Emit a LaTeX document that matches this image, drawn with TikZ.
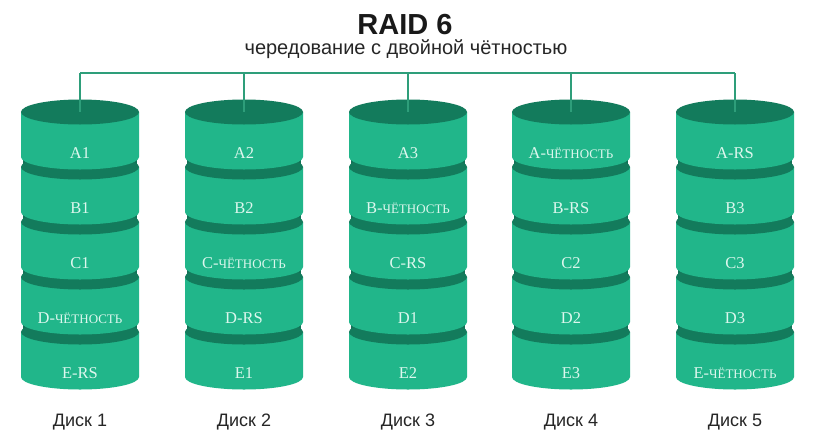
\documentclass[tikz,border=0pt]{standalone}
\usepackage{fontspec}
\setmainfont{Liberation Serif}
\newfontfamily\sansf{Liberation Sans}
\definecolor{bodyc}{HTML}{21B68A}
\definecolor{topc}{HTML}{137B5C}
\definecolor{groovec}{HTML}{127156}
\definecolor{lblc}{HTML}{DDF7EE}
\definecolor{wirec}{HTML}{2E9E7A}
\newcommand\chet[1]{{\fontsize{13}{13}\selectfont #1}}
\tikzset{
  seglbl/.style={text=lblc,inner sep=0pt,font=\fontsize{16.5}{16.5}\selectfont},
  disklbl/.style={text=black!85,inner sep=0pt,font=\sansf\fontsize{18}{18}\selectfont},
  wire/.style={draw=wirec,line width=1.6pt},
}
\begin{document}
\begin{tikzpicture}[x=1pt,y=1pt]
\useasboundingbox (0,0) rectangle (821,-447);
\fill[white] (0,0) rectangle (821,-447);
\node[inner sep=0pt,font=\sansf\bfseries\fontsize{29}{29}\selectfont,text=black!90] (title) at (405,-25) {RAID 6};
\node[inner sep=0pt,font=\sansf\fontsize{20}{20}\selectfont,text=black!85] (subtitle) at (406,-49) {чередование с двойной чётностью};
\foreach \i/\cx/\la/\lb/\lc/\ld/\le in {
  1/80/A1/B1/C1/{D-\chet{ЧЁТНОСТЬ}}/E-RS,
  2/244/A2/B2/{C-\chet{ЧЁТНОСТЬ}}/D-RS/E1,
  3/408/A3/{B-\chet{ЧЁТНОСТЬ}}/C-RS/D1/E2,
  4/571/{A-\chet{ЧЁТНОСТЬ}}/B-RS/C2/D2/E3,
  5/735/A-RS/B3/C3/D3/{E-\chet{ЧЁТНОСТЬ}}}{
  \fill[groovec] (\cx-57,-112) rectangle (\cx+57,-377);
  \foreach \k in {4,3,2,1,0}{
    \pgfmathsetmacro\t{112+55*\k}
    \fill[bodyc] (\cx-59,-\t) -- (\cx-59,-\t-45) arc[start angle=180,end angle=360,x radius=59,y radius=12.5] -- (\cx+59,-\t) -- cycle;
    \fill[topc] (\cx,-\t) ellipse[x radius=59,y radius=12.5];
  }
  \foreach \k/\txt in {0/\la,1/\lb,2/\lc,3/\ld,4/\le}{
    \node[seglbl] (d\i-\k) at (\cx,{-(153+55*\k)}) {\txt};
  }
  \coordinate (bus\i) at (\cx,-73);
  \coordinate (top\i) at (\cx,-112);
  \node[disklbl] (n\i) at (\cx,-422) {Диск \i};
}
\draw[wire] (bus1) -- (bus5);
\foreach \i in {1,...,5}{\draw[wire] (bus\i) -- (top\i);}
\end{tikzpicture}
\end{document}
